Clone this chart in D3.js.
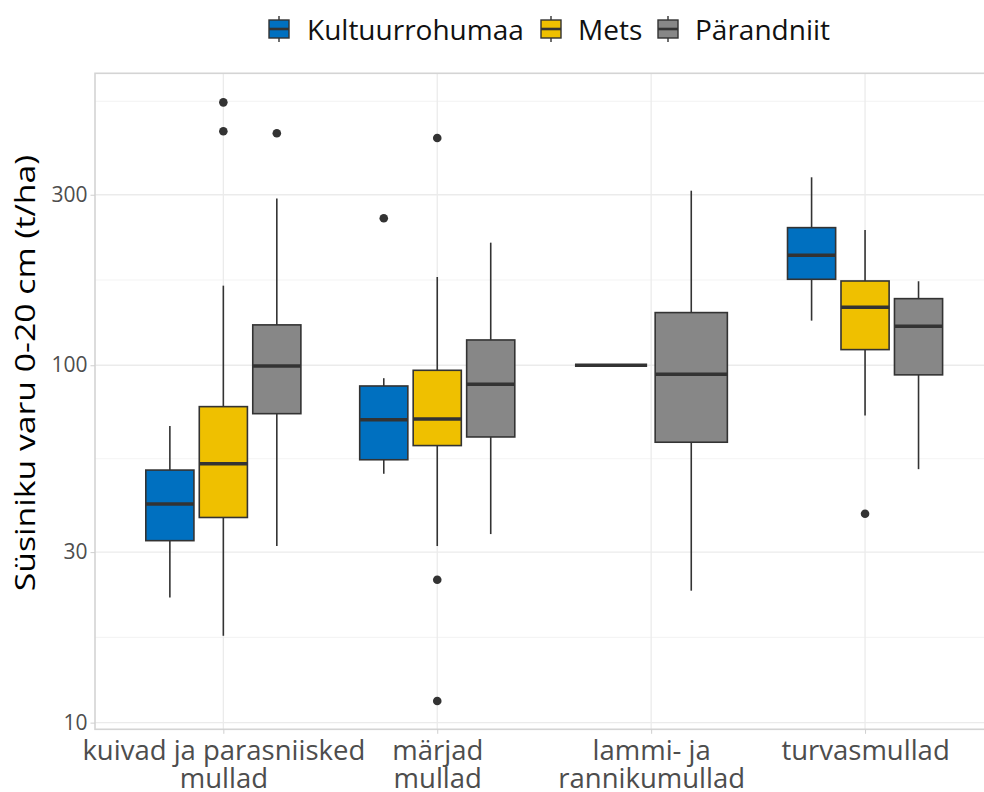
<!DOCTYPE html>
<html>
<head>
<meta charset="utf-8">
<script src="https://cdn.jsdelivr.net/npm/d3@7"></script>
<style>
  html, body { margin: 0; padding: 0; background: #fff; }
  svg { display: block; font-family: "Open Sans", "Noto Sans", sans-serif; }
</style>
</head>
<body>
<svg id="chart" width="984" height="792"></svg>
<script>
// Soil categories (two-line labels)
const categories = [
  ["kuivad ja parasniisked", "mullad"],
  ["märjad", "mullad"],
  ["lammi- ja", "rannikumullad"],
  ["turvasmullad"]
];
const series = ["Kultuurrohumaa", "Mets", "Pärandniit"];
const seriesColors = ["#0070c0", "#efc000", "#878787"];

// Box statistics per category: [lower whisker, Q1, median, Q3, upper whisker]
const kultuurrohumaaStats = [
  [22.4, 32.3, 40.9, 50.9, 67.6],
  [49.7, 54.4, 70.4, 87.5, 92.0],
  [100, 100, 100, 100, 100],
  [133.3, 174.0, 203.2, 242.7, 335.7]
];
const metsStats = [
  [17.5, 37.5, 53.0, 76.6, 167],
  [31.2, 59.6, 70.7, 96.8, 176.6],
  null,
  [72.3, 110.6, 145.3, 172.1, 239.0]
];
const parandniitStats = [
  [31.2, 73.2, 99.5, 129.7, 293],
  [33.7, 63.0, 88.5, 117.7, 220.3],
  [23.4, 60.9, 94.4, 140.4, 307.9],
  [51.2, 94.0, 128.6, 153.6, 171.8]
];

// Outliers per category
const kultuurrohumaaOutliers = [[], [257.8], [], []];
const metsOutliers = [[451.6, 544], [11.5, 25.1, 432.5], [], [38.4]];
const parandniitOutliers = [[445.8], [], [], []];

const yTicks = [10, 30, 100, 300];
const yMinor = [17.32, 54.77, 173.2, 547.7];
const yTitle = "Süsiniku varu 0-20 cm (t/ha)";

const statsBySeries = [kultuurrohumaaStats, metsStats, parandniitStats];
const outliersBySeries = [kultuurrohumaaOutliers, metsOutliers, parandniitOutliers];

const svg = d3.select("#chart");
const panel = { left: 95, right: 993.4, top: 73.3, bottom: 729.3 };

const catKeys = categories.map(c => c.join(" "));
const x = d3.scalePoint().domain(catKeys).range([panel.left, panel.right]).padding(0.6);
const y = d3.scaleLog().domain([9.58, 656]).range([panel.bottom, panel.top]);
const step = x.step();

const gridColor = "#ebebeb";
const inkColor = "#333333";

// Grid
const grid = svg.append("g");
grid.selectAll("line.minor").data(yMinor).join("line")
  .attr("x1", panel.left).attr("x2", panel.right)
  .attr("y1", d => y(d)).attr("y2", d => y(d))
  .attr("stroke", "#f0f0f0").attr("stroke-width", 0.8);
grid.selectAll("line.major").data(yTicks).join("line")
  .attr("x1", panel.left).attr("x2", panel.right)
  .attr("y1", d => y(d)).attr("y2", d => y(d))
  .attr("stroke", gridColor).attr("stroke-width", 1.3);
grid.selectAll("line.vx").data(catKeys).join("line")
  .attr("x1", d => x(d)).attr("x2", d => x(d))
  .attr("y1", panel.top).attr("y2", panel.bottom)
  .attr("stroke", gridColor).attr("stroke-width", 1.3);

// Boxes, dodged within each category
const boxes = svg.append("g");
catKeys.forEach((cat, ci) => {
  const present = series.map((s, si) => si).filter(si => statsBySeries[si][ci]);
  const slot = 0.75 * step / present.length;
  const bw = slot * 0.9;
  present.forEach((si, k) => {
    const st = statsBySeries[si][ci];
    const cx = x(cat) - 0.75 * step / 2 + slot * (k + 0.5);
    const g = boxes.append("g");
    g.append("line").attr("x1", cx).attr("x2", cx)
      .attr("y1", y(st[3])).attr("y2", y(st[4]))
      .attr("stroke", inkColor).attr("stroke-width", 1.6);
    g.append("line").attr("x1", cx).attr("x2", cx)
      .attr("y1", y(st[1])).attr("y2", y(st[0]))
      .attr("stroke", inkColor).attr("stroke-width", 1.6);
    g.append("rect")
      .attr("x", cx - bw / 2).attr("width", bw)
      .attr("y", y(st[3])).attr("height", Math.max(0, y(st[1]) - y(st[3])))
      .attr("fill", seriesColors[si]).attr("stroke", inkColor).attr("stroke-width", 1.6);
    g.append("line").attr("x1", cx - bw / 2).attr("x2", cx + bw / 2)
      .attr("y1", y(st[2])).attr("y2", y(st[2]))
      .attr("stroke", inkColor).attr("stroke-width", 3.4);
    g.selectAll("circle").data(outliersBySeries[si][ci]).join("circle")
      .attr("cx", cx).attr("cy", d => y(d)).attr("r", 4.3)
      .attr("fill", inkColor);
  });
});

// Panel border
svg.append("rect")
  .attr("x", panel.left).attr("y", panel.top)
  .attr("width", panel.right - panel.left).attr("height", panel.bottom - panel.top)
  .attr("fill", "none").attr("stroke", "#d4d4d4").attr("stroke-width", 1.6);

// Y axis
const yAxis = svg.append("g").attr("transform", `translate(${panel.left},0)`)
  .call(d3.axisLeft(y).tickValues(yTicks).tickFormat(d3.format("d")).tickSize(4.5).tickPadding(3));
yAxis.select(".domain").remove();
yAxis.selectAll(".tick line").attr("stroke", "#cfcfcf").attr("stroke-width", 1);
yAxis.selectAll(".tick text").attr("fill", "#4d4d4d").style("font-size", "21px")
  .style("font-family", "Open Sans");

// X axis
const xAxis = svg.append("g").attr("transform", `translate(0,${panel.bottom})`)
  .call(d3.axisBottom(x).tickSize(4.5).tickFormat(""));
xAxis.select(".domain").remove();
xAxis.selectAll(".tick line").attr("stroke", "#cfcfcf").attr("stroke-width", 1);
xAxis.selectAll(".tick").each(function(d, i) {
  const tick = d3.select(this);
  categories[i].forEach((line, li) => {
    tick.append("text")
      .attr("text-anchor", "middle").attr("fill", "#4d4d4d")
      .attr("x", 0).attr("y", 30.5 + li * 28)
      .style("font-size", "27.5px").style("font-family", "Open Sans")
      .text(line);
  });
});

// Y title
svg.append("text")
  .attr("transform", `translate(35,373) rotate(-90) scale(1.25,1)`)
  .attr("text-anchor", "middle").attr("fill", "#000")
  .style("font-size", "27px")
  .text(yTitle);

// Legend
const legendItems = [
  { key: 279, text: 307 },
  { key: 551, text: 578 },
  { key: 668, text: 695 }
];
const legend = svg.append("g");
series.forEach((s, i) => {
  const cx = legendItems[i].key, cy = 29;
  legend.append("line").attr("x1", cx).attr("x2", cx).attr("y1", cy - 13).attr("y2", cy + 13)
    .attr("stroke", inkColor).attr("stroke-width", 1.4);
  legend.append("rect").attr("x", cx - 10).attr("y", cy - 9).attr("width", 20).attr("height", 18)
    .attr("fill", seriesColors[i]).attr("stroke", inkColor).attr("stroke-width", 1.4);
  legend.append("line").attr("x1", cx - 10).attr("x2", cx + 10).attr("y1", cy).attr("y2", cy)
    .attr("stroke", inkColor).attr("stroke-width", 2.6);
  legend.append("text").attr("x", legendItems[i].text).attr("y", cy)
    .attr("dominant-baseline", "central").attr("fill", "#111")
    .style("font-size", "28px").text(s);
});
</script>
</body>
</html>
